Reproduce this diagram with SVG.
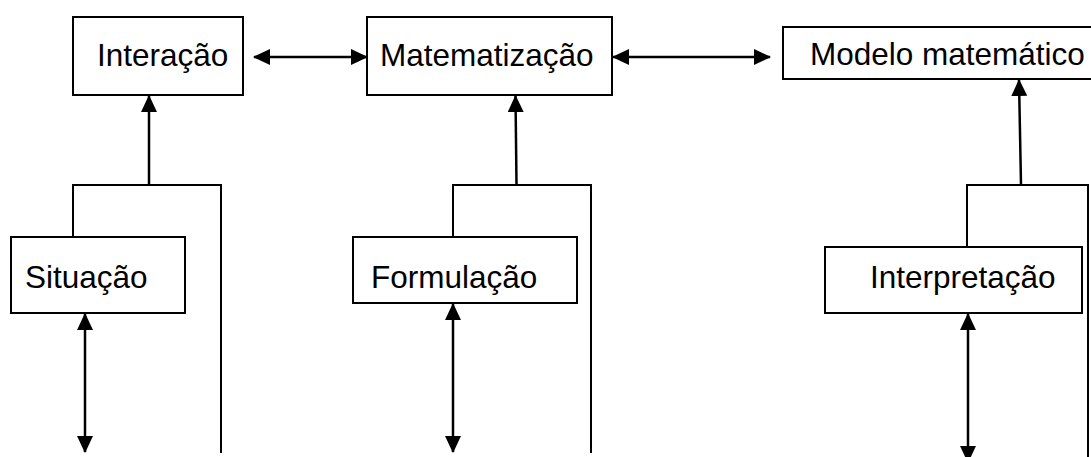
<svg xmlns="http://www.w3.org/2000/svg" width="1091" height="457" viewBox="0 0 1091 457">
  <style>
    .box { fill: #ffffff; stroke: #000000; stroke-width: 2; }
    .lbl { font-family: "Liberation Sans", Arial, sans-serif; font-size: 31.5px; fill: #000000; }
    .ln { fill: none; stroke: #000000; stroke-width: 2; }
    .arr { fill: none; stroke: #000000; stroke-width: 2.5; }
  </style>
  <defs>
    <marker id="head" viewBox="0 0 17 16" refX="16" refY="8" markerWidth="17" markerHeight="16" markerUnits="userSpaceOnUse" orient="auto-start-reverse">
      <path d="M0,0 L17,8 L0,16 z" fill="#000000"/>
    </marker>
  </defs>

  <rect width="1091" height="457" fill="#ffffff"/>

  <!-- connectors -->
  <g id="connectors">
    <!-- top row: two-way links -->
    <line class="arr" x1="254" y1="57" x2="367" y2="57" marker-start="url(#head)" marker-end="url(#head)"/>
    <line class="arr" x1="613" y1="57" x2="770" y2="57" marker-start="url(#head)" marker-end="url(#head)"/>

    <!-- brackets rising to the top row -->
    <path class="ln" d="M73,237 V185 H221 V453"/>
    <line class="arr" x1="149" y1="185" x2="149" y2="96" marker-end="url(#head)"/>

    <path class="ln" d="M453,237 V185 H591 V453"/>
    <line class="arr" x1="516.5" y1="185" x2="515.5" y2="96" marker-end="url(#head)"/>

    <path class="ln" d="M967,247 V185 H1088 V457"/>
    <line class="arr" x1="1021" y1="185" x2="1019" y2="80" marker-end="url(#head)"/>

    <!-- downward two-way links -->
    <line class="arr" x1="85" y1="314" x2="85" y2="452" marker-start="url(#head)" marker-end="url(#head)"/>
    <line class="arr" x1="453" y1="304" x2="453" y2="452" marker-start="url(#head)" marker-end="url(#head)"/>
    <line class="arr" x1="968" y1="314" x2="968" y2="462" marker-start="url(#head)" marker-end="url(#head)"/>
  </g>

  <g id="interacao">
    <rect class="box" x="73" y="17" width="170" height="78"/>
    <text class="lbl" x="97" y="66">Interação</text>
  </g>

  <g id="matematizacao">
    <rect class="box" x="367" y="17" width="245" height="78"/>
    <text class="lbl" x="380" y="66">Matematização</text>
  </g>

  <g id="modelo-matematico">
    <rect class="box" x="783" y="27" width="320" height="52"/>
    <text class="lbl" x="810" y="65">Modelo matemático</text>
  </g>

  <g id="situacao">
    <rect class="box" x="11" y="237" width="174" height="76"/>
    <text class="lbl" x="25" y="288">Situação</text>
  </g>

  <g id="formulacao">
    <rect class="box" x="353" y="237" width="224" height="66"/>
    <text class="lbl" x="371" y="288">Formulação</text>
  </g>

  <g id="interpretacao">
    <rect class="box" x="825" y="247" width="257" height="66"/>
    <text class="lbl" x="870" y="288">Interpretação</text>
  </g>
</svg>
